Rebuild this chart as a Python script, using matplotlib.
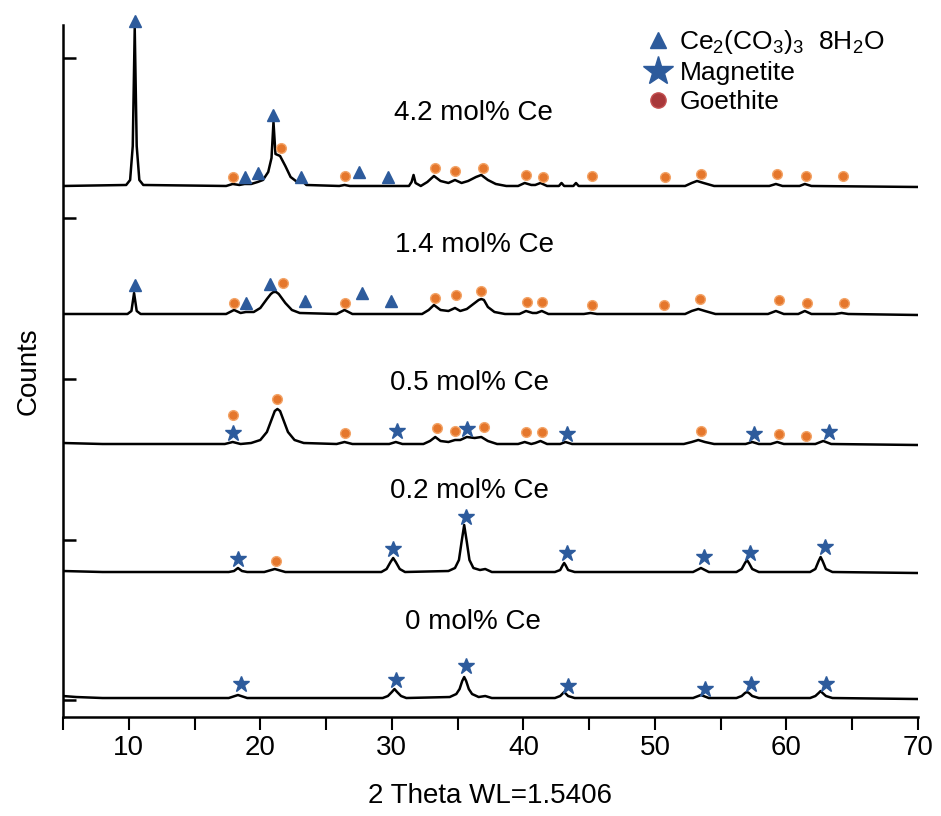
import numpy as np
import matplotlib.pyplot as plt
from matplotlib.lines import Line2D

plt.rcParams['font.family'] = ['Liberation Sans', 'DejaVu Sans']
plt.rcParams['mathtext.default'] = 'regular'

# sample names and vertical offsets of each pattern (a.u.)
labels = ['0 mol% Ce', '0.2 mol% Ce', '0.5 mol% Ce', '1.4 mol% Ce', '4.2 mol% Ce']
offsets = [19, 145, 273, 403, 531]
label_x = [36.2, 35.9, 35.9, 36.3, 36.2]
label_y = [95, 226, 334, 472, 604]

# patterns: 2theta (deg) and intensity above baseline
theta_0 = [5, 6, 8, 17.6, 18.3, 19.0, 29.3, 29.7, 30.0, 30.2, 30.4, 30.7, 31.1, 34.4, 34.9, 35.15,
           35.35, 35.5, 35.65, 35.85, 36.1, 36.6, 37.1, 37.6, 42.4, 42.8, 43.1, 43.4, 43.9, 52.9,
           53.5, 54.1, 56.2, 56.6, 56.85, 57.0, 57.15, 57.4, 57.9, 61.8, 62.2, 62.45, 62.6, 62.75,
           63.0, 63.5, 70]
int_0 = [2, 1, 0, 0, 3, 0, 0, 2, 6, 9, 6, 2, 0, 1, 4, 9,
         17, 21, 17, 9, 4, 1, 2, 0, 0, 2, 6, 2, 0, 0,
         3, 0, 0, 2, 5, 6, 5, 2, 0, 0, 2, 5, 7, 5,
         2, 0, -1]

theta_02 = [5, 8, 17.6, 18.0, 18.3, 18.6, 19.0, 20.3, 21.1, 21.9, 29.2, 29.6, 29.9, 30.1, 30.3,
            30.6, 31.0, 34.3, 34.8, 35.1, 35.3, 35.5, 35.7, 35.9, 36.2, 36.7, 37.1, 37.6, 42.4,
            42.8, 43.0, 43.1, 43.2, 43.4, 43.9, 52.9, 53.5, 54.1, 56.2, 56.6, 56.85, 57.0, 57.15,
            57.4, 57.9, 61.8, 62.2, 62.45, 62.6, 62.75, 63.0, 63.5, 70]
int_02 = [1, 0, 0, 1, 4, 1, 0, 0, 3, 0, 0, 3, 10, 14, 10,
          3, 0, 1, 4, 12, 30, 47, 30, 12, 4, 2, 3, 0, 0,
          2, 7, 9, 7, 2, 0, 0, 4, 0, 0, 3, 9, 12, 9,
          3, 0, 0, 3, 11, 15, 11, 3, 0, -1]

theta_05 = [5, 8, 17.3, 17.9, 18.5, 19.3, 20.0, 20.5, 20.9, 21.1, 21.3, 21.5, 21.7, 22.1, 22.6,
            23.3, 25.8, 26.4, 27.0, 29.8, 30.3, 30.8, 32.4, 32.9, 33.3, 33.7, 34.3, 34.8, 35.2,
            35.7, 36.3, 36.8, 37.3, 38.0, 39.6, 40.1, 40.6, 40.9, 41.3, 41.8, 42.8, 43.2, 43.7,
            52.2, 52.8, 53.3, 53.8, 54.5, 56.9, 57.4, 57.9, 58.8, 59.3, 59.8, 62.2, 62.8, 63.4, 70]
int_05 = [1, 0, 0, 2, 0, 1, 4, 12, 26, 33, 35, 33, 26, 12, 4,
          1, 0, 2, 0, 0, 2, 0, 0, 3, 7, 3, 2, 4, 4,
          7, 6, 7, 3, 0, 0, 2, 0, 1, 3, 0, 0, 2, 0,
          0, 2, 4, 2, 0, 0, 2, 0, 0, 2, 0, 0, 3, 0, -1]

theta_14 = [5, 9.9, 10.2, 10.4, 10.6, 10.9, 17.4, 18.0, 18.5, 18.9, 19.5, 20.0, 20.5, 20.8, 21.0,
            21.2, 21.4, 21.9, 22.4, 23.0, 25.8, 26.4, 27.0, 32.3, 32.8, 33.2, 33.7, 34.3, 34.8,
            35.2, 35.7, 36.3, 36.6, 36.8, 37.0, 37.3, 37.8, 38.6, 39.7, 40.2, 40.7, 41.0, 41.4,
            41.9, 44.6, 45.1, 45.6, 52.3, 52.8, 53.3, 53.8, 54.6, 58.6, 59.2, 59.8, 60.9, 61.4,
            61.9, 63.7, 64.2, 64.7, 70]
int_14 = [0, 0, 3, 21, 3, 0, 0, 4, 1, 2, 2, 6, 15, 20, 22,
          22, 20, 11, 4, 1, 0, 4, 0, 0, 4, 9, 4, 3, 6,
          3, 5, 11, 14, 15, 14, 7, 2, 0, 0, 3, 1, 1, 3,
          0, 0, 1, 0, 0, 3, 5, 3, 0, 0, 3, 0, 0, 3,
          0, 0, 1, 0, -1]

theta_42 = [5, 9.8, 10.1, 10.3, 10.45, 10.6, 10.8, 11.1, 17.4, 17.9, 18.4, 18.8, 19.3, 19.8, 20.2,
            20.6, 20.85, 21.0, 21.15, 21.5, 21.9, 22.3, 22.8, 23.1, 23.5, 26.0, 26.4, 26.8, 31.3,
            31.5, 31.65, 31.8, 32.2, 32.7, 33.2, 33.7, 34.3, 34.8, 35.3, 35.8, 36.4, 36.8, 37.3,
            37.9, 38.7, 39.6, 40.1, 40.6, 40.9, 41.3, 41.8, 42.7, 42.9, 43.1, 43.8, 44.0, 44.2,
            52.3, 52.8, 53.2, 53.7, 54.5, 58.7, 59.2, 59.7, 61.0, 61.4, 61.9, 70]
int_42 = [0, 1, 6, 40, 158, 40, 6, 1, 0, 2, 1, 2, 2, 4, 6,
          14, 28, 64, 32, 30, 20, 9, 4, 6, 1, 0, 1, 0, 0,
          4, 11, 3, 0, 4, 10, 5, 3, 6, 3, 5, 9, 11, 6,
          2, 0, 0, 3, 1, 1, 3, 0, 0, 3, 0, 0, 3, 0,
          0, 3, 5, 3, 0, 0, 2, 0, 0, 2, 0, -1]

thetas = [theta_0, theta_02, theta_05, theta_14, theta_42]
intensities = [int_0, int_02, int_05, int_14, int_42]

# phase markers (2theta, absolute height on the stacked plot)
tri_x = [10.48, 18.8, 19.8, 21.0, 23.1, 27.5, 29.7,
         10.5, 18.9, 20.7, 23.4, 27.7, 29.9]
tri_y = [696, 540, 544, 602, 540, 545, 540,
         432, 414, 433, 416, 424, 416]

star_x = [18.5, 30.3, 35.6, 43.4, 53.8, 57.3, 63.0,
          18.3, 30.1, 35.6, 43.3, 53.7, 57.2, 62.9,
          17.9, 30.4, 35.7, 43.3, 57.5, 63.2]
star_y = [33, 37, 51, 31, 28, 33, 33,
          158, 168, 200, 164, 160, 164, 170,
          284, 286, 288, 283, 283, 285]

circ_x = [21.2,
          17.9, 21.3, 26.4, 33.4, 34.8, 37.0, 40.2, 41.4, 53.5, 59.4, 61.5,
          18.0, 21.7, 26.4, 33.3, 34.9, 36.8, 40.3, 41.4, 45.2, 50.7, 53.4, 59.4, 61.6, 64.4,
          17.9, 21.6, 26.4, 33.3, 34.8, 36.9, 40.2, 41.5, 45.2, 50.8, 53.5, 59.3, 61.5, 64.3]
circ_y = [156,
          302, 318, 284, 289, 286, 290, 285, 285, 286, 283, 281,
          414, 434, 414, 419, 422, 426, 415, 415, 412, 412, 418, 417, 414, 414,
          540, 569, 541, 549, 546, 549, 542, 540, 541, 540, 543, 543, 541, 541]

y_ticks = [17, 177.5, 338, 498.5, 659]

blue = '#2d5b9c'
orange = '#e5772c'

fig = plt.figure(figsize=(9.41, 8.16), dpi=100)
ax = fig.add_axes([0.067, 0.1213, 0.9085, 0.8481])

for th, inten, off in zip(thetas, intensities, offsets):
    ax.plot(th, np.array(inten) + off, color='black', lw=1.8, zorder=2, solid_joinstyle='round')

ax.plot(tri_x, tri_y, linestyle='none', marker='^', ms=8, color=blue, zorder=3, clip_on=False)
ax.plot(star_x, star_y, linestyle='none', marker='*', ms=12, color=blue, zorder=3, clip_on=False)
ax.plot(circ_x, circ_y, linestyle='none', marker='o', ms=7, color=orange,
        markeredgecolor='#f3a468', markeredgewidth=1, zorder=3, clip_on=False)

for lab, lx, ly in zip(labels, label_x, label_y):
    ax.text(lx, ly, lab, ha='center', va='center', fontsize=20)

handles = [
    Line2D([], [], linestyle='none', marker='^', ms=11, color=blue),
    Line2D([], [], linestyle='none', marker='*', ms=22, color=blue),
    Line2D([], [], linestyle='none', marker='o', ms=11, color='#a8383a', markeredgecolor='#c45050'),
]
ax.legend(handles, ['Ce$_2$(CO$_3$)$_3$  8H$_2$O', 'Magnetite', 'Goethite'],
          loc='upper left', bbox_to_anchor=(0.684, 0.996), frameon=False, fontsize=19,
          handlelength=0.8, handletextpad=0.4, labelspacing=0.2, borderpad=0,
          borderaxespad=0)

ax.set_xlim(5, 70)
ax.set_ylim(0, 692)
ax.set_xticks([10, 20, 30, 40, 50, 60, 70])
ax.set_xticks([5, 15, 25, 35, 45, 55, 65], minor=True)
ax.set_yticks(y_ticks)
ax.set_yticklabels([])
ax.tick_params(axis='x', which='both', direction='out', length=9, width=1.5, labelsize=20, pad=4)
ax.tick_params(axis='y', direction='in', length=9.5, width=1.8)

for side in ['top', 'right']:
    ax.spines[side].set_visible(False)
for side in ['left', 'bottom']:
    ax.spines[side].set_linewidth(1.8)

ax.set_xlabel('2 Theta WL=1.5406', fontsize=20, labelpad=16)
ax.set_ylabel('Counts', fontsize=20, labelpad=12)

fig.savefig('out.png', dpi=100)
